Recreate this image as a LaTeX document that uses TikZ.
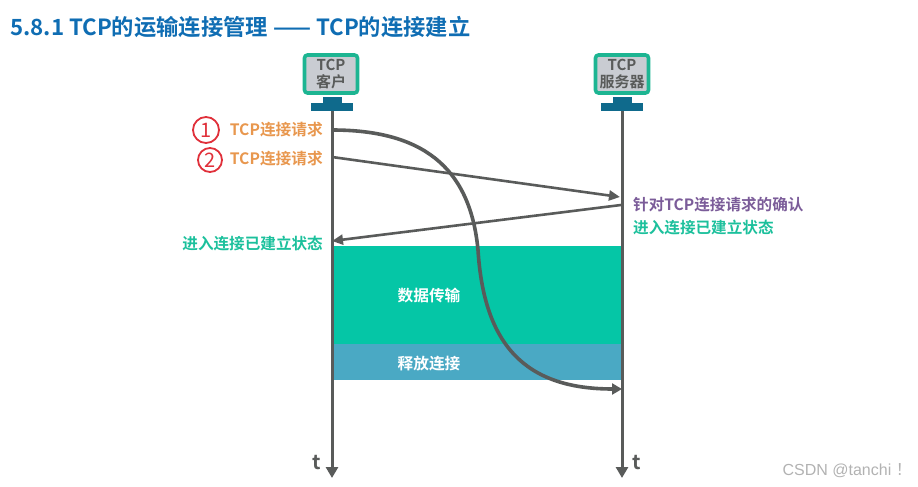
\documentclass[tikz,border=0pt]{standalone}
\usepackage{fontspec}
\usepackage{xcolor}
\setmainfont{Noto Sans CJK SC}[BoldFont=* Bold]
\setsansfont{Liberation Sans}
\usetikzlibrary{arrows.meta}

\definecolor{linegray}{HTML}{595B5A}
\definecolor{termgreen}{HTML}{1DB592}
\definecolor{termblue}{HTML}{0F6A8C}
\definecolor{screengray}{HTML}{C9CCD2}
\definecolor{titleblue}{HTML}{0F6DB3}
\definecolor{reqorange}{HTML}{E8974E}
\definecolor{ackpurple}{HTML}{7B5C99}
\definecolor{estgreen}{HTML}{1CC09C}
\definecolor{datagreen}{HTML}{05C6A6}
\definecolor{relblue}{HTML}{4AA9C4}
\definecolor{markred}{HTML}{E0303A}

\tikzset{
    screenbox/.style={draw=termgreen, line width=3.6pt, fill=screengray, rounded corners=3pt, minimum width=53pt, minimum height=38pt, inner sep=0pt, align=center, text=linegray, font=\fontsize{15}{16}\selectfont\bfseries},
    standbox/.style={fill=termblue, inner sep=0pt},
    lifeline/.style={linegray, line width=3pt, -{Triangle[length=11pt, width=12pt]}},
    msgline/.style={linegray, line width=3.6pt, -{Triangle[length=10pt, width=11pt]}},
    sideline/.style={linegray, line width=2.6pt, -{Triangle[length=11pt, width=10pt]}},
    reqtext/.style={anchor=east, inner sep=0pt, text=reqorange, font=\fontsize{15.7}{16}\selectfont\bfseries},
    esttext/.style={inner sep=0pt, text=estgreen, font=\fontsize{15.6}{16}\selectfont\bfseries},
    marknode/.style={circle, draw=markred, line width=1.8pt, text=markred, inner sep=0pt, font=\fontsize{20}{20}\selectfont},
    timetext/.style={text=linegray, font=\fontsize{20}{20}\selectfont\bfseries}
}

\begin{document}
\begin{tikzpicture}[x=1pt, y=-1pt]

    \useasboundingbox (0, 0) rectangle (918, 487);

    % Title
    \node[anchor=west, inner sep=0pt, text=titleblue, font=\fontsize{22.3}{24}\selectfont\bfseries] (title) at (10, 27) {5.8.1 TCP的运输连接管理 —— TCP的连接建立};

    % Data transfer and release blocks
    \node[fill=datagreen, anchor=north west, minimum width=289pt, minimum height=98pt, inner sep=0pt] (databox) at (332, 246) {};
    \node[fill=relblue, anchor=north west, minimum width=289pt, minimum height=36pt, inner sep=0pt] (relbox) at (332, 344) {};
    \node[text=white, font=\fontsize{15.7}{16}\selectfont\bfseries] (datatext) at (429, 296) {数据传输};
    \node[text=white, font=\fontsize{15.7}{16}\selectfont\bfseries] (reltext) at (429, 364) {释放连接};

    % Client terminal
    \node[screenbox] (client) at (331, 74) {TCP\\[1pt]客户};
    \node[standbox, minimum width=19pt, minimum height=6pt] (clientneck) at (332, 100) {};
    \node[standbox, minimum width=42pt, minimum height=8pt] (clientbase) at (332, 107) {};

    % Server terminal
    \node[screenbox] (server) at (622, 74) {TCP\\[1pt]服务器};
    \node[standbox, minimum width=19pt, minimum height=6pt] (serverneck) at (622, 100) {};
    \node[standbox, minimum width=42pt, minimum height=8pt] (serverbase) at (622, 107) {};

    % Points on the two time lines
    \coordinate (clientend) at (332, 478);
    \coordinate (serverend) at (622, 478);
    \coordinate (lostfrom) at (332, 130);
    \coordinate (lostto) at (622, 389);
    \coordinate (reqfrom) at (332, 157);
    \coordinate (reqto) at (620, 197);
    \coordinate (ackfrom) at (621, 205);
    \coordinate (ackto) at (332, 241);

    % Time lines
    \draw[lifeline] (clientbase.south) -- (clientend);
    \draw[lifeline] (serverbase.south) -- (serverend);

    % Messages
    \draw[msgline] (lostfrom) .. controls (420, 130) and (470, 165) .. (478, 250)
        .. controls (484, 345) and (525, 389) .. (lostto);
    \draw[sideline] (reqfrom) -- (reqto);
    \draw[sideline] (ackfrom) -- (ackto);

    % Left labels
    \node[reqtext] (req1) at (323, 130) {TCP连接请求};
    \node[reqtext] (req2) at (323, 159) {TCP连接请求};
    \node[esttext, anchor=east] (estleft) at (323, 244) {进入连接已建立状态};

    % Red marks
    \node[marknode, minimum size=26pt] (mark1) at (206, 130) {1};
    \node[marknode, minimum size=24pt] (mark2) at (210, 160) {2};

    % Right labels
    \node[anchor=west, inner sep=0pt, text=ackpurple, font=\fontsize{15.6}{16}\selectfont\bfseries] (acktext) at (633, 205) {针对TCP连接请求的确认};
    \node[esttext, anchor=west] (estright) at (633, 228) {进入连接已建立状态};

    % Time labels
    \node[timetext] (tleft) at (317, 463) {t};
    \node[timetext] (tright) at (637, 463) {t};

    % Watermark
    \node[anchor=east, inner sep=0pt, text=gray!60, font=\sffamily\fontsize{16}{16}\selectfont] (wmark) at (912, 471) {CSDN @tanchi {\rmfamily！}};

\end{tikzpicture}
\end{document}
